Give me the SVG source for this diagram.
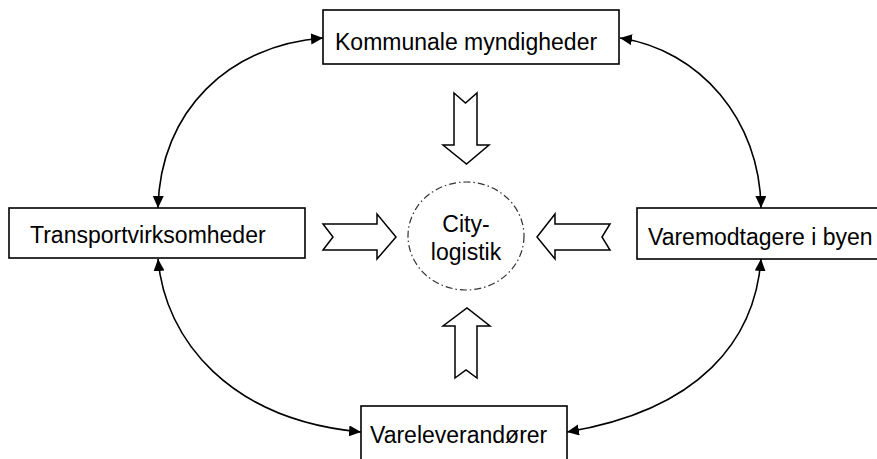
<svg xmlns="http://www.w3.org/2000/svg" width="877" height="459" viewBox="0 0 877 459">
<defs>
<style>
.box{fill:#fff;stroke:#000;stroke-width:1.6}
.lbl{font-family:"Liberation Sans",Arial,sans-serif;font-size:23px;fill:#000}
.blk{fill:#fff;stroke:#000;stroke-width:1.5;stroke-linejoin:miter}
.con{fill:none;stroke:#000;stroke-width:1.6}
</style>
<marker id="ah" markerUnits="userSpaceOnUse" markerWidth="13" markerHeight="12" refX="12" refY="5.5" orient="auto-start-reverse">
<path d="M0,0 L12,5.5 L0,11 z" fill="#000"/>
</marker>
</defs>
<rect width="877" height="459" fill="#fff"/>
<g id="connectors">
<path class="con" d="M323 38 C230 45,160 110,158 208" marker-start="url(#ah)" marker-end="url(#ah)"/>
<path class="con" d="M620 38 C700 50,760 120,761 208" marker-start="url(#ah)" marker-end="url(#ah)"/>
<path class="con" d="M158 259 C165 340,230 420,361 432" marker-start="url(#ah)" marker-end="url(#ah)"/>
<path class="con" d="M761 259 C755 340,700 410,567 432" marker-start="url(#ah)" marker-end="url(#ah)"/>
</g>
<g id="kommunale">
<rect class="box" x="323" y="10" width="296" height="54"/>
<text class="lbl" x="335" y="50">Kommunale myndigheder</text>
</g>
<g id="transport">
<rect class="box" x="9" y="208" width="296" height="50"/>
<text class="lbl" x="30" y="243">Transportvirksomheder</text>
</g>
<g id="varemodtagere">
<rect class="box" x="637" y="208" width="260" height="51"/>
<text class="lbl" x="648" y="245">Varemodtagere i byen</text>
</g>
<g id="vareleverandorer">
<rect class="box" x="361" y="406" width="206" height="70"/>
<text class="lbl" x="370" y="443">Vareleverandører</text>
</g>
<g id="citylogistik">
<ellipse cx="466" cy="236" rx="58" ry="54" fill="#fff" stroke="#333" stroke-width="1.2" stroke-dasharray="7 3 1.5 3"/>
<text class="lbl" x="466" y="232" text-anchor="middle">City-</text>
<text class="lbl" x="466" y="260" text-anchor="middle">logistik</text>
</g>
<g id="arrow-top">
<path class="blk" d="M454 93 L465.5 103 L477 93 L477 145 L489 145 L466.5 164 L443 145 L454 145 Z"/>
</g>
<g id="arrow-left">
<path class="blk" d="M323 224 L377 224 L377 214 L396 237 L377 259 L377 250 L323 250 L333 237 Z"/>
</g>
<g id="arrow-right">
<path class="blk" d="M610 224 L555 224 L555 214 L537 237 L555 259 L555 250 L610 250 L602 237 Z"/>
</g>
<g id="arrow-bottom">
<path class="blk" d="M455 378 L466 370 L477 378 L477 326 L490 326 L467 308 L443 326 L455 326 Z"/>
</g>
</svg>
